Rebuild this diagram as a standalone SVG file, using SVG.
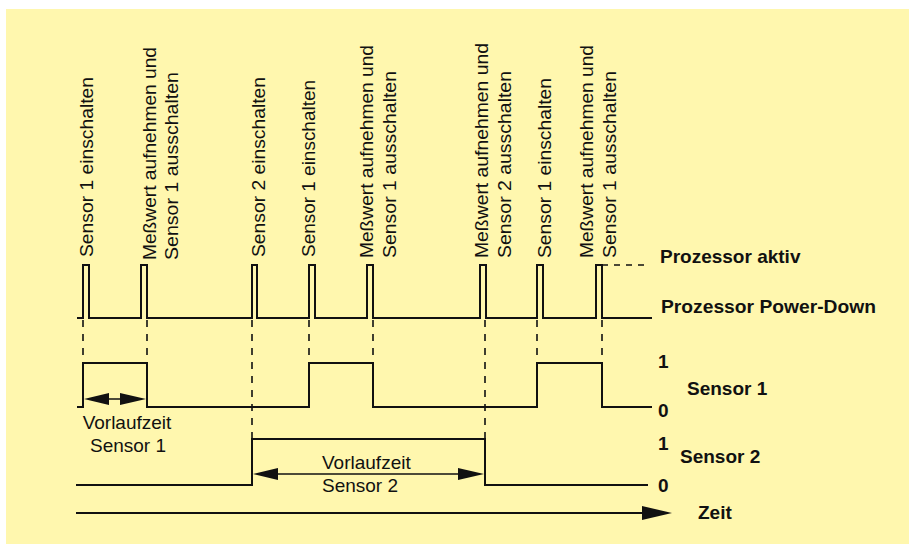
<svg xmlns="http://www.w3.org/2000/svg" width="909" height="544" viewBox="0 0 909 544">
<defs>
<style>
.sig{fill:none;stroke:#111;stroke-width:2;stroke-linejoin:miter}
.dash{fill:none;stroke:#111;stroke-width:1.6;stroke-dasharray:7 7}
.v{font-family:"Liberation Sans",Arial,sans-serif;font-size:19px;fill:#111}
.b{font-family:"Liberation Sans",Arial,sans-serif;font-size:19px;font-weight:bold;fill:#111}
.t{font-family:"Liberation Sans",Arial,sans-serif;font-size:19px;fill:#111}
.ah{fill:#111;stroke:none}
</style>
</defs>
<rect x="0" y="0" width="909" height="544" fill="#fff"/>
<rect x="6" y="9" width="903" height="535" fill="#FFF7AE"/>

<g id="event-labels">
<text class="v" transform="translate(93,257) rotate(-90)" textLength="180" lengthAdjust="spacingAndGlyphs">Sensor 1 einschalten</text>
<text class="v" transform="translate(156,260) rotate(-90)" textLength="213" lengthAdjust="spacingAndGlyphs">Meßwert aufnehmen und</text>
<text class="v" transform="translate(178,260) rotate(-90)" textLength="188" lengthAdjust="spacingAndGlyphs">Sensor 1 ausschalten</text>
<text class="v" transform="translate(265,257) rotate(-90)" textLength="180" lengthAdjust="spacingAndGlyphs">Sensor 2 einschalten</text>
<text class="v" transform="translate(315,257) rotate(-90)" textLength="177" lengthAdjust="spacingAndGlyphs">Sensor 1 einschalten</text>
<text class="v" transform="translate(373,258) rotate(-90)" textLength="213" lengthAdjust="spacingAndGlyphs">Meßwert aufnehmen und</text>
<text class="v" transform="translate(396,258) rotate(-90)" textLength="187" lengthAdjust="spacingAndGlyphs">Sensor 1 ausschalten</text>
<text class="v" transform="translate(488,258) rotate(-90)" textLength="215" lengthAdjust="spacingAndGlyphs">Meßwert aufnehmen und</text>
<text class="v" transform="translate(511,258) rotate(-90)" textLength="187" lengthAdjust="spacingAndGlyphs">Sensor 2 ausschalten</text>
<text class="v" transform="translate(551,258) rotate(-90)" textLength="180" lengthAdjust="spacingAndGlyphs">Sensor 1 einschalten</text>
<text class="v" transform="translate(593,258) rotate(-90)" textLength="213" lengthAdjust="spacingAndGlyphs">Meßwert aufnehmen und</text>
<text class="v" transform="translate(616,258) rotate(-90)" textLength="187" lengthAdjust="spacingAndGlyphs">Sensor 1 ausschalten</text>
</g>

<g id="processor">
<path class="sig" d="M77,318 H83 V265 H89 V318 H141 V265 H147 V318 H252 V265 H257 V318 H309 V265 H315 V318 H367 V265 H373 V318 H480 V265 H486 V318 H537 V265 H543 V318 H596 V265 H602 V318 H652"/>
<path class="dash" d="M602,265 H648" style="stroke-dasharray:6 6"/>
<text class="b" x="660" y="263">Prozessor aktiv</text>
<text class="b" x="661" y="313" textLength="215" lengthAdjust="spacingAndGlyphs">Prozessor Power-Down</text>
</g>

<g id="connectors">
<path class="dash" d="M83,320 V363 M147,320 V363 M252,320 V439 M309,320 V363 M373,320 V363 M485,320 V439 M537,320 V363 M602,320 V407"/>
</g>

<g id="sensor1">
<path class="sig" d="M77,407 H83 V363 H147 V407 H309 V363 H373 V407 H537 V363 H602 V407 H652"/>
<text class="b" x="658" y="368">1</text>
<text class="b" x="658" y="417">0</text>
<text class="b" x="687" y="395">Sensor 1</text>
<line class="sig" x1="100" y1="399" x2="130" y2="399" style="stroke-width:1.5"/>
<polygon class="ah" points="84,399 109,393 109,405"/>
<polygon class="ah" points="146,399 120,393 120,405"/>
<text class="t" x="127" y="429" text-anchor="middle">Vorlaufzeit</text>
<text class="t" x="128" y="452" text-anchor="middle">Sensor 1</text>
</g>

<g id="sensor2">
<path class="sig" d="M76,485 H252 V439 H485 V485 H648"/>
<text class="b" x="658" y="450">1</text>
<text class="b" x="658" y="492">0</text>
<text class="b" x="680" y="463">Sensor 2</text>
<line class="sig" x1="270" y1="474" x2="466" y2="474" style="stroke-width:1.5"/>
<polygon class="ah" points="253,474 278,468 278,480"/>
<polygon class="ah" points="484,474 458,468 458,480"/>
<text class="t" x="322" y="469">Vorlaufzeit</text>
<text class="t" x="322" y="492">Sensor 2</text>
</g>

<g id="time-axis">
<line class="sig" x1="76" y1="513" x2="645" y2="513"/>
<polygon class="ah" points="672,513 642,506 642,520"/>
<text class="b" x="698" y="519">Zeit</text>
</g>
</svg>
